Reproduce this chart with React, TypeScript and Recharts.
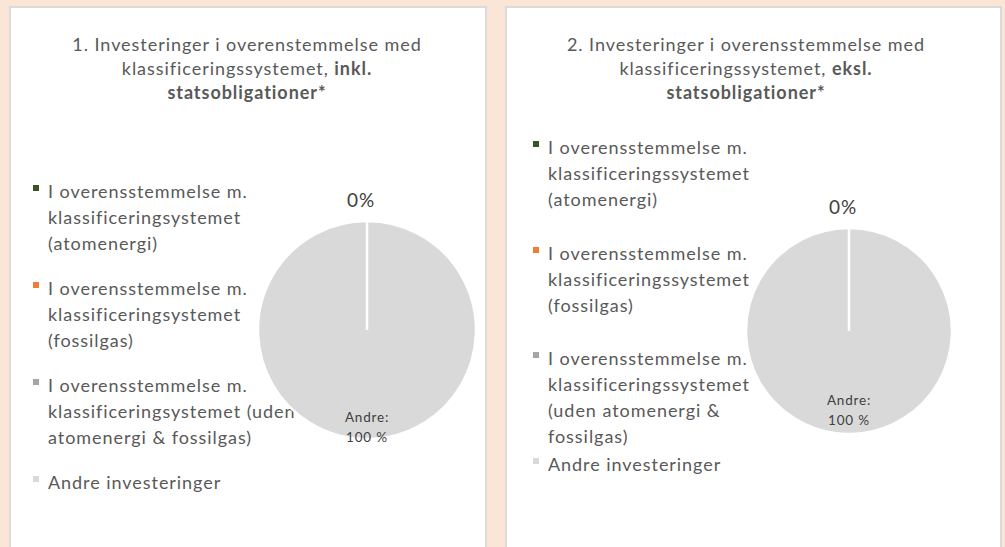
import { PieChart, Pie, Cell } from "recharts";

// slice values (percent of investments)
const valuesIncl = [0, 0, 0, 100];
const valuesExcl = [0, 0, 0, 100];

const sliceNames = ["Atomenergi", "Fossilgas", "Uden atomenergi & fossilgas", "Andre"];
const sliceColors = ["#375623", "#ED7D31", "#A5A5A5", "#D9D9D9"];

const legendIncl = [
  ["I overensstemmelse m.", "klassificeringsystemet", "(atomenergi)"],
  ["I overensstemmelse m.", "klassificeringsystemet", "(fossilgas)"],
  ["I overensstemmelse m.", "klassificeringsystemet (uden", "atomenergi & fossilgas)"],
  ["Andre investeringer"],
];
const legendExcl = [
  ["I overensstemmelse m.", "klassificeringssystemet", "(atomenergi)"],
  ["I overensstemmelse m.", "klassificeringssystemet", "(fossilgas)"],
  ["I overensstemmelse m.", "klassificeringssystemet", "(uden atomenergi &", "fossilgas)"],
  ["Andre investeringer"],
];

const titleIncl = ["1. Investeringer i overenstemmelse med", "klassificeringssystemet, ", "inkl.", "statsobligationer*"];
const titleExcl = ["2. Investeringer i overensstemmelse med", "klassificeringssystemet, ", "eksl.", "statsobligationer*"];

const FONT = "Lato, 'Open Sans', sans-serif";
const TEXT = "#595959";
const LABEL = "#404040";
const SPACING = "0.95px";

function Panel({ left, width, title, titleCenter, values, legend, legendTop, itemGap, markerX, cx, cy, r, andreDy }: any) {
  const data = values.map((v: number, i: number) => ({ name: sliceNames[i], value: v }));

  const renderLabel = (p: any) => {
    if (p.index === 0) {
      return (
        <text x={p.cx - 6} y={p.cy - p.outerRadius - 22} textAnchor="middle" dominantBaseline="central"
          fill={LABEL} fontSize={19} fontFamily={FONT} letterSpacing="1px">
          {`${Math.round(p.value)}%`}
        </text>
      );
    }
    if (p.index === data.length - 1) {
      return (
        <text x={p.cx} y={p.cy + andreDy} textAnchor="middle" fill={LABEL} fontSize={13.5} fontFamily={FONT}
          letterSpacing="0.8px">
          <tspan x={p.cx} dy={-10} dominantBaseline="central">Andre:</tspan>
          <tspan x={p.cx} dy={20} dominantBaseline="central">{`${p.value} %`}</tspan>
        </text>
      );
    }
    return null;
  };

  return (
    <div style={{ position: "absolute", left, top: 6, width, height: 560, background: "#fff",
      boxSizing: "border-box", border: "2px solid #DADADA" }}>
      <div style={{ position: "absolute", left: titleCenter - 220, top: 24, width: 440, textAlign: "center",
        fontFamily: FONT, fontSize: 18, lineHeight: "24px", color: TEXT, letterSpacing: SPACING }}>
        {title[0]}<br />
        {title[1]}<b>{title[2]}</b><br />
        <b>{title[3]}</b>
      </div>

      {legend.map((lines: string[], i: number) => (
        <div key={i} style={{ position: "absolute", left: markerX, top: legendTop + i * itemGap }}>
          <div style={{ position: "absolute", left: 0, top: 7, width: 6, height: 6, background: sliceColors[i] }} />
          <div style={{ position: "absolute", left: 15, top: 0, whiteSpace: "nowrap", fontFamily: FONT,
            fontSize: 18, lineHeight: "26px", color: TEXT, letterSpacing: SPACING }}>
            {lines.map((l, j) => <div key={j}>{l}</div>)}
          </div>
        </div>
      ))}

      <div style={{ position: "absolute", left: -2, top: -2 }}>
        <PieChart width={width} height={547} margin={{ top: 0, right: 0, bottom: 0, left: 0 }}>
          <Pie data={data} dataKey="value" nameKey="name" cx={cx} cy={cy} outerRadius={r}
            startAngle={90} endAngle={-270} stroke="#fff" strokeWidth={2.5}
            label={renderLabel} labelLine={false} isAnimationActive={false}>
            {data.map((d: any, i: number) => <Cell key={d.name} fill={sliceColors[i]} />)}
          </Pie>
        </PieChart>
      </div>
    </div>
  );
}

export default function App() {
  return (
    <div style={{ position: "absolute", left: 0, top: 0, width: 1005, height: 547, overflow: "hidden",
      background: "#FBE5D6" }}>
      <Panel left={9} width={478} title={titleIncl} titleCenter={236} values={valuesIncl} legend={legendIncl}
        legendTop={170} itemGap={97} markerX={22} cx={358} cy={324} r={109} andreDy={97} />
      <Panel left={505} width={497} title={titleExcl} titleCenter={239} values={valuesExcl} legend={legendExcl}
        legendTop={126} itemGap={105.7} markerX={26} cx={344} cy={325} r={103} andreDy={79} />
    </div>
  );
}
